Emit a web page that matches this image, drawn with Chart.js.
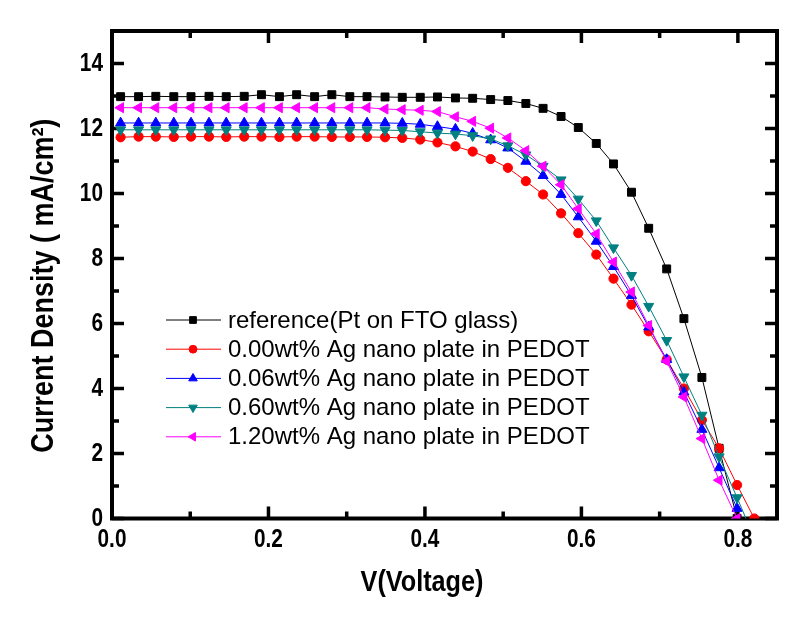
<!DOCTYPE html>
<html>
<head>
<meta charset="utf-8">
<title>J-V curves</title>
<script src="https://cdn.jsdelivr.net/npm/chart.js@4.4.0/dist/chart.umd.min.js"></script>
<style>
body{margin:0;background:#fff;}
#wrap{width:809px;height:620px;position:relative;}
</style>
</head>
<body>
<div id="wrap"><canvas id="line-chart"></canvas></div>
<script>
// voltage steps (V), shared by all curves
var voltage = [0.011,0.034,0.056,0.079,0.101,0.124,0.146,0.169,0.191,0.214,0.236,0.259,0.281,0.304,0.326,0.349,0.371,0.394,0.416,0.439,0.461,0.484,0.506,0.529,0.551,0.574,0.596,0.619,0.641,0.664,0.686,0.709,0.731,0.754,0.776,0.799,0.821];

// current density (mA/cm2)
var refPt = [12.98,12.98,12.99,12.98,12.98,12.99,12.98,12.99,13.04,12.98,13.04,12.98,13.04,12.98,12.98,12.97,12.96,12.96,12.97,12.94,12.93,12.89,12.86,12.77,12.62,12.37,12.03,11.54,10.91,10.04,8.93,7.68,6.15,4.34,2.16,0.0];
var ag000 = [11.73,11.75,11.75,11.74,11.75,11.75,11.74,11.75,11.75,11.74,11.75,11.75,11.74,11.74,11.74,11.73,11.71,11.66,11.57,11.45,11.29,11.06,10.79,10.38,9.97,9.39,8.78,8.12,7.38,6.58,5.76,4.89,4.0,3.03,2.16,1.03,0.0];
var ag006 = [12.17,12.17,12.17,12.17,12.17,12.17,12.17,12.17,12.17,12.17,12.17,12.17,12.17,12.17,12.17,12.17,12.16,12.13,12.06,11.98,11.85,11.65,11.40,10.99,10.55,9.97,9.28,8.53,7.75,6.86,5.89,4.89,3.89,2.74,1.56,0.31];
var ag060 = [11.96,11.96,11.96,11.96,11.96,11.96,11.96,11.96,11.96,11.96,11.96,11.96,11.96,11.96,11.96,11.95,11.94,11.90,11.86,11.83,11.78,11.68,11.47,11.19,10.84,10.42,9.83,9.16,8.33,7.48,6.53,5.48,4.36,3.18,1.90,0.64,-0.6];
var ag120 = [12.64,12.64,12.64,12.64,12.64,12.64,12.64,12.64,12.64,12.64,12.64,12.64,12.64,12.64,12.64,12.60,12.58,12.56,12.52,12.36,12.22,12.01,11.71,11.32,10.84,10.27,9.53,8.76,7.89,6.97,5.94,4.84,3.74,2.46,1.18,0.0];

var seriesNames = ['reference(Pt on FTO glass)','0.00wt% Ag nano plate in PEDOT','0.06wt% Ag nano plate in PEDOT','0.60wt% Ag nano plate in PEDOT','1.20wt% Ag nano plate in PEDOT'];
var xTicks = [0.0,0.2,0.4,0.6,0.8];
var yTicks = [0,2,4,6,8,10,12,14];

var BOLD = "'Liberation Sans', Arial, sans-serif";
var PLAIN = "'Liberation Sans', Arial, sans-serif";

function toPoints(vals){
	return vals.map(function(v, i){ return {x: voltage[i], y: v}; });
}

function makeSet(i, vals, color, style, rot, r){
	return {
		label: seriesNames[i],
		data: toPoints(vals),
		borderColor: color,
		backgroundColor: color,
		borderWidth: 1,
		pointStyle: style,
		rotation: rot,
		pointRadius: r,
		pointBorderWidth: 1,
		order: 5 - i,
		showLine: true,
		tension: 0
	};
}

var datasets = [
	makeSet(0, refPt, '#000000', 'rect', 0, 5.6),
	makeSet(1, ag000, '#ff0000', 'circle', 0, 4.6),
	makeSet(2, ag006, '#0000ff', 'triangle', 0, 5.8),
	makeSet(3, ag060, '#008080', 'triangle', 180, 5.8),
	makeSet(4, ag120, '#ff00ff', 'triangle', 270, 5.8)
];

// the original uses a narrow bold face, so squeeze the text sideways
function squeezed(ctx, text, x, y, sx){
	ctx.save();
	ctx.translate(x, y);
	ctx.scale(sx, 1);
	ctx.fillText(text, 0, 0);
	ctx.restore();
}

// frame, inward ticks, labels, titles and legend
var framePlugin = {
	id: 'frame',
	beforeDatasetsDraw: function(chart){
		var ctx = chart.ctx, a = chart.chartArea;
		var xs = chart.scales.x, ys = chart.scales.y;
		ctx.save();
		ctx.strokeStyle = '#000';
		ctx.lineWidth = 3.5;
		var i, p, len;
		for (i = 0; i <= 8; i++) {
			p = xs.getPixelForValue(i / 10);
			len = (i % 2 == 0) ? 12 : 7;
			ctx.beginPath();
			ctx.moveTo(p, a.bottom); ctx.lineTo(p, a.bottom - len);
			ctx.moveTo(p, a.top); ctx.lineTo(p, a.top + len);
			ctx.stroke();
		}
		for (i = 0; i <= 14; i++) {
			p = ys.getPixelForValue(i);
			len = (i % 2 == 0) ? 12 : 7;
			ctx.beginPath();
			ctx.moveTo(a.left, p); ctx.lineTo(a.left + len, p);
			ctx.moveTo(a.right, p); ctx.lineTo(a.right - len, p);
			ctx.stroke();
		}
		ctx.lineWidth = 4;
		ctx.strokeRect(a.left, a.top, a.right - a.left, a.bottom - a.top);

		// tick labels
		ctx.fillStyle = '#000';
		ctx.font = 'bold 26px ' + BOLD;
		ctx.textBaseline = 'middle';
		ctx.textAlign = 'center';
		xs.ticks.forEach(function(t){
			squeezed(ctx, t.value.toFixed(1), xs.getPixelForValue(t.value), a.bottom + 21, 0.8);
		});
		ctx.textAlign = 'right';
		ys.ticks.forEach(function(t){
			squeezed(ctx, String(t.value), a.left - 9, ys.getPixelForValue(t.value), 0.8);
		});
		ctx.restore();
	},
	afterDraw: function(chart){
		var ctx = chart.ctx, a = chart.chartArea;
		ctx.save();
		ctx.fillStyle = '#000';
		ctx.textAlign = 'center';
		ctx.textBaseline = 'alphabetic';
		ctx.font = 'bold 29px ' + BOLD;
		squeezed(ctx, 'V(Voltage)', a.left + 310, a.bottom + 72, 0.87);

		ctx.translate(53, (a.top + a.bottom) / 2 + 11);
		ctx.rotate(-Math.PI / 2);
		ctx.font = 'bold 31px ' + BOLD;
		squeezed(ctx, 'Current Density ( mA/cm\u00b2)', 0, 0, 0.87);
		ctx.restore();

		// legend
		ctx.save();
		chart.data.datasets.forEach(function(ds, i){
			var yy = a.top + 289 + i * 29.2;
			var x0 = a.left + 54;
			ctx.strokeStyle = ds.borderColor;
			ctx.fillStyle = ds.backgroundColor;
			ctx.lineWidth = 1;
			ctx.beginPath();
			ctx.moveTo(x0, yy); ctx.lineTo(x0 + 55, yy);
			ctx.stroke();
			Chart.helpers.drawPoint(ctx, {pointStyle: ds.pointStyle, rotation: ds.rotation, radius: ds.pointRadius * 0.85, borderWidth: 1}, x0 + 27, yy);
			ctx.fillStyle = '#000';
			ctx.font = '24px ' + PLAIN;
			ctx.textAlign = 'left';
			ctx.textBaseline = 'middle';
			ctx.fillText(ds.label, x0 + 62, yy + 1);
		});
		ctx.restore();
	}
};

new Chart(document.getElementById('line-chart'), {
	type: 'scatter',
	data: { datasets: datasets },
	plugins: [framePlugin],
	options: {
		responsive: true,
		maintainAspectRatio: false,
		animation: false,
		layout: { padding: { top: 31, right: 32, left: 0, bottom: 0 } },
		plugins: {
			legend: { display: false },
			tooltip: { enabled: false }
		},
		scales: {
			x: {
				type: 'linear',
				min: 0, max: 0.85,
				grid: { display: false },
				border: { display: false },
				afterFit: function(s){ s.height = 101.5; },
				afterBuildTicks: function(s){ s.ticks = xTicks.map(function(v){ return {value: v}; }); },
				ticks: { display: false }
			},
			y: {
				type: 'linear',
				min: 0, max: 15,
				grid: { display: false },
				border: { display: false },
				afterFit: function(s){ s.width = 112; },
				afterBuildTicks: function(s){ s.ticks = yTicks.map(function(v){ return {value: v}; }); },
				ticks: { display: false }
			}
		}
	}
});
</script>
</body>
</html>
